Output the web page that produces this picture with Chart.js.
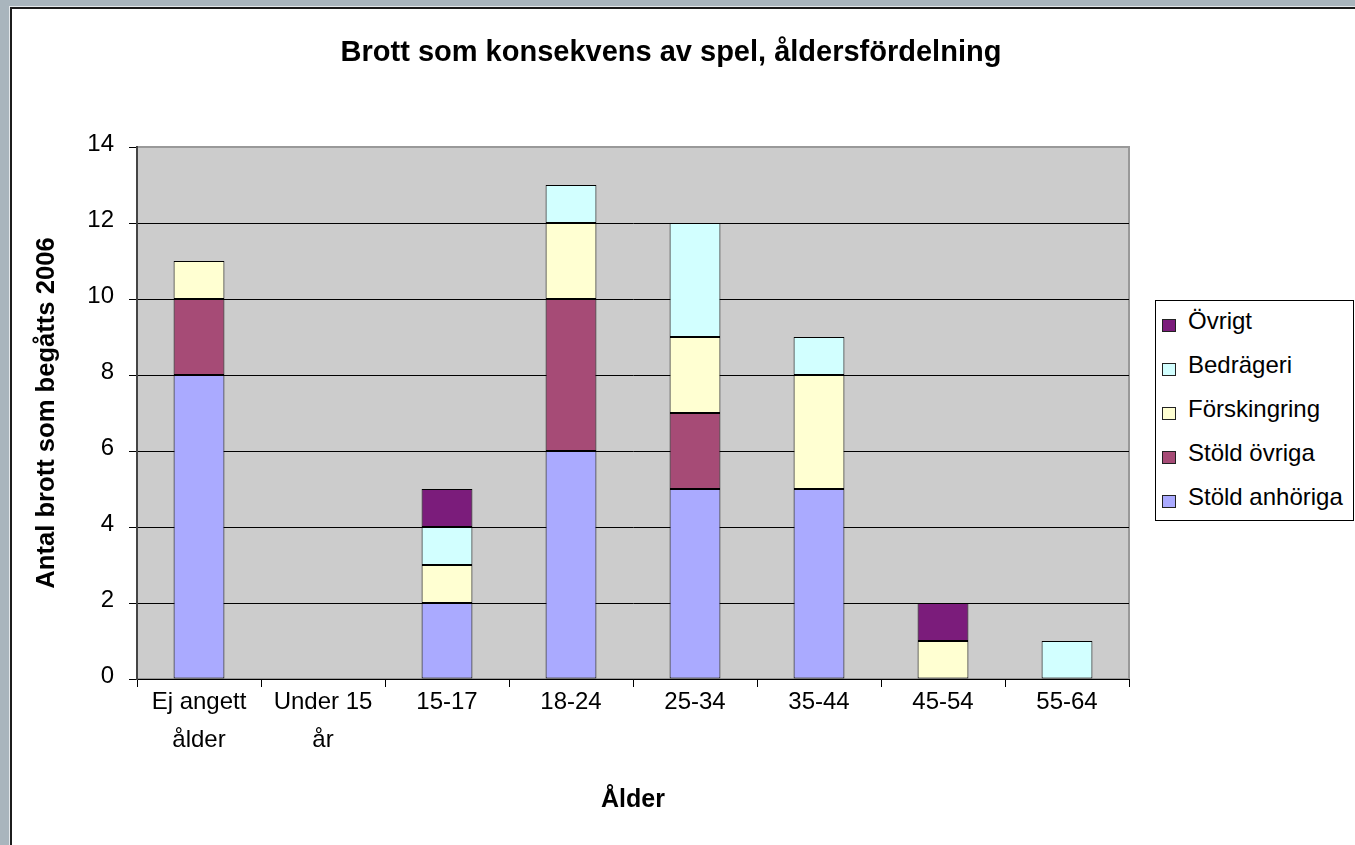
<!DOCTYPE html>
<html lang="sv">
<head>
    <meta charset="UTF-8">
    <title>Brott som konsekvens av spel, åldersfördelning</title>
    <script src="https://cdn.jsdelivr.net/npm/chart.js@4.4.1/dist/chart.umd.min.js"></script>
    <style>
        body {
            margin: 0;
            width: 1355px;
            height: 845px;
            overflow: hidden;
            background: #a9b5bd;
            font-family: "Liberation Sans", Arial, sans-serif;
        }
        .frame {
            position: absolute;
            left: 9px;
            top: 6px;
            right: 0;
            bottom: 0;
            border-left: 1px solid #e4e8eb;
            border-top: 1px solid #e4e8eb;
        }
        .frame-inner {
            position: absolute;
            left: 0; top: 0; right: 0; bottom: 0;
            border-left: 2px solid #1c1c1c;
            border-top: 2px solid #1c1c1c;
            background: #fff;
        }
        .title {
            position: absolute;
            left: 0;
            width: 1342px;
            top: 37px;
            text-align: center;
            font-size: 29px;
            font-weight: bold;
            line-height: 29px;
            color: #000;
        }
        .chart-box {
            position: absolute;
            left: 0;
            top: 0;
            width: 1355px;
            height: 845px;
        }
        .legend {
            position: absolute;
            left: 1155px;
            top: 300px;
            width: 197px;
            height: 219px;
            border: 1px solid #000;
            background: #fff;
        }
        .legend div {
            height: 44px;
            line-height: 44px;
            font-size: 24px;
            white-space: nowrap;
        }
        .legend div:first-child {
            margin-top: -2px;
        }
        .legend span {
            display: inline-block;
            width: 12px;
            height: 11px;
            border: 1px solid #222;
            margin: 0 12px 0 6px;
            vertical-align: -3px;
        }
    </style>
</head>
<body>
    <div class="frame"><div class="frame-inner"></div></div>
    <div class="chart-box"><canvas id="chart"></canvas></div>
    <div class="title">Brott som konsekvens av spel, åldersfördelning</div>
    <div class="legend" id="legend"></div>

    <script>
        // categories (x axis)
        const categories = [['Ej angett', 'ålder'], ['Under 15', 'år'], '15-17', '18-24', '25-34', '35-44', '45-54', '55-64'];

        // series, bottom to top
        const seriesNames = ['Stöld anhöriga', 'Stöld övriga', 'Förskingring', 'Bedrägeri', 'Övrigt'];
        const stoldAnhoriga = [8, 0, 2, 6, 5, 5, 0, 0];
        const stoldOvriga   = [2, 0, 0, 4, 2, 0, 0, 0];
        const forskingring  = [1, 0, 1, 2, 2, 3, 1, 0];
        const bedrageri     = [0, 0, 1, 1, 3, 1, 0, 1];
        const ovrigt        = [0, 0, 1, 0, 0, 0, 1, 0];
        const seriesColors = ['#aaaaff', '#a64b76', '#ffffd2', '#d2ffff', '#7b1c7b'];

        const yMin = 0, yMax = 14, yStep = 2;

        const seriesValues = [stoldAnhoriga, stoldOvriga, forskingring, bedrageri, ovrigt];

        Chart.defaults.font.family = '"Liberation Sans", Arial, sans-serif';
        Chart.defaults.color = '#000';

        // gray plot area with border
        const plotArea = {
            id: 'plotArea',
            beforeDraw(chart) {
                const a = chart.chartArea;
                const ctx = chart.ctx;
                ctx.save();
                ctx.fillStyle = '#cccccc';
                ctx.fillRect(a.left, a.top, a.right - a.left, a.bottom - a.top);
                ctx.strokeStyle = '#999999';
                ctx.lineWidth = 2;
                ctx.strokeRect(a.left, a.top, a.right - a.left, a.bottom - a.top);
                ctx.restore();
            }
        };

        const datasets = seriesNames.map((name, i) => ({
            label: name,
            data: seriesValues[i],
            backgroundColor: seriesColors[i],
            borderColor: '#000',
            borderWidth: 1,
            borderSkipped: false,
            barPercentage: 0.41,
            categoryPercentage: 1
        }));

        new Chart(document.getElementById('chart'), {
            type: 'bar',
            data: { labels: categories, datasets: datasets },
            plugins: [plotArea],
            options: {
                responsive: true,
                maintainAspectRatio: false,
                animation: false,
                layout: { padding: { left: 20, top: 147, right: 226, bottom: 0 } },
                plugins: {
                    legend: { display: false },
                    tooltip: { enabled: false }
                },
                scales: {
                    x: {
                        stacked: true,
                        afterFit(scale) { scale.height = 166; },
                        border: { color: '#000', width: 1 },
                        grid: {
                            offset: true,
                            drawOnChartArea: false,
                            drawTicks: true,
                            tickLength: 8,
                            tickColor: '#000'
                        },
                        ticks: {
                            font: { size: 24, lineHeight: 1.6 },
                            padding: -4,
                            maxRotation: 0,
                            autoSkip: false
                        },
                        title: {
                            display: true,
                            text: 'Ålder',
                            font: { size: 25, weight: 'bold', lineHeight: 1.2 },
                            padding: { top: 0, bottom: 30 }
                        }
                    },
                    y: {
                        stacked: true,
                        min: yMin,
                        max: yMax,
                        afterFit(scale) { scale.width = 117; },
                        border: { color: '#444', width: 2 },
                        grid: {
                            color: ctx => ctx.tick && ctx.tick.value === yMax ? '#999999' : '#000',
                            lineWidth: 1,
                            tickLength: 8,
                            tickColor: '#000'
                        },
                        ticks: {
                            stepSize: yStep,
                            font: { size: 24 },
                            padding: 15,
                            labelOffset: -3
                        },
                        title: {
                            display: true,
                            text: 'Antal brott som begåtts 2006',
                            font: { size: 25.6, weight: 'bold', lineHeight: 1.2 },
                            padding: { top: 12, bottom: 0 }
                        }
                    }
                }
            }
        });

        // legend, reversed order like the original
        const legend = document.getElementById('legend');
        for (let i = seriesNames.length - 1; i >= 0; i--) {
            const row = document.createElement('div');
            const box = document.createElement('span');
            box.style.background = seriesColors[i];
            row.appendChild(box);
            row.appendChild(document.createTextNode(seriesNames[i]));
            legend.appendChild(row);
        }
    </script>
</body>
</html>
